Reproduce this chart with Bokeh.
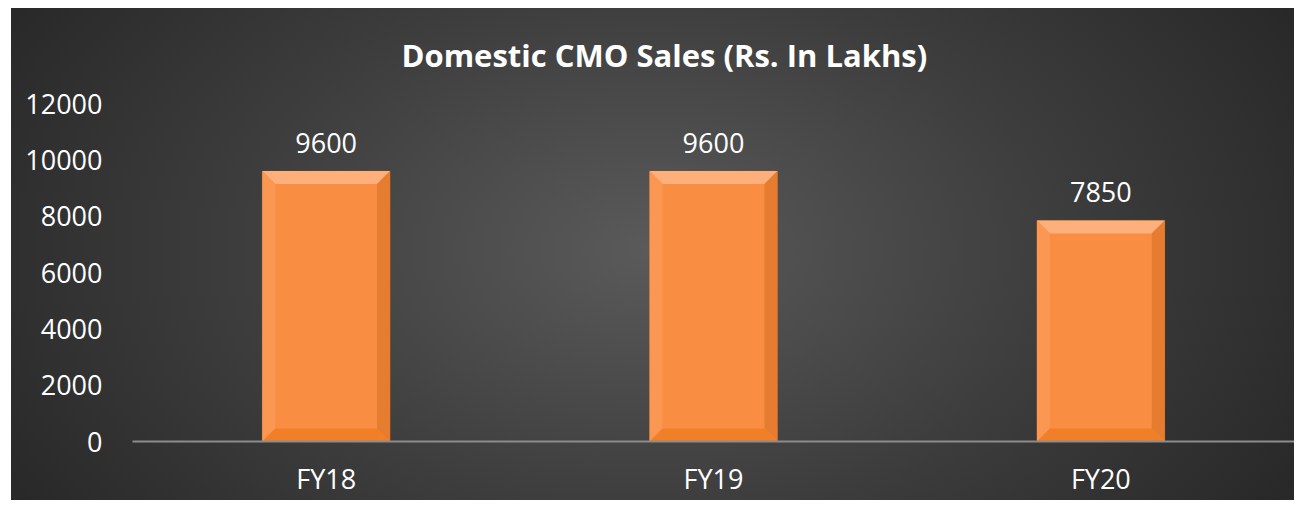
from bokeh.plotting import figure
from bokeh.models import Range1d, FixedTicker, ColumnDataSource
from bokeh.core.properties import value
from bokeh.embed import file_html
from bokeh.resources import INLINE

# ---- data ----
categories = ["FY18", "FY19", "FY20"]
sales = [9600, 9600, 7850]
y_ticks = [0, 2000, 4000, 6000, 8000, 10000, 12000]
title_text = "Domestic CMO Sales (Rs. In Lakhs)"

FONT = "Open Sans"
W, H = 1294, 500
LEFT, RIGHT, TOP, BOTTOM = 132, 0, 103, 59

p = figure(width=W, height=H, output_backend="svg", toolbar_location=None,
           x_range=Range1d(-0.5, len(categories) - 0.5), y_range=Range1d(0, 12000),
           min_border_left=LEFT, min_border_right=RIGHT,
           min_border_top=TOP, min_border_bottom=BOTTOM)
p.styles = {"background": (
    "linear-gradient(#ffffff, #ffffff) left top / 11px 100% no-repeat, "
    "linear-gradient(#ffffff, #ffffff) left top / 100% 8px no-repeat, "
    "radial-gradient(ellipse 58% 95% at 50% 50%, #5a5a5a 0%, #3d3d3d 55%, #282828 100%)")}
p.background_fill_alpha = 0
p.border_fill_alpha = 0
p.outline_line_color = None
p.grid.visible = False

xs = list(range(len(categories)))
bw = 0.33
src = ColumnDataSource(dict(x=xs, top=sales, lab=[str(v) for v in sales]))
p.vbar(x="x", top="top", width=bw, bottom=0, source=src,
       fill_color="#F98E43", line_color="#B85F1E", line_width=0.6, line_alpha=0.6)

# bevel faces
frame_w = W - LEFT - RIGHT
frame_h = H - TOP - BOTTOM
dx = 13 * (len(categories)) / frame_w
dy = 13 * 12000 / frame_h
bx, by, bc = [], [], []
for c, v in zip(xs, sales):
    x0, x1 = c - bw / 2, c + bw / 2
    bx.append([x0, x1, x1 - dx, x0 + dx]); by.append([v, v, v - dy, v - dy]); bc.append("#FDB27E")
    bx.append([x0, x0 + dx, x0 + dx, x0]); by.append([v, v - dy, dy, 0]); bc.append("#FA9853")
    bx.append([x1, x1, x1 - dx, x1 - dx]); by.append([v, 0, dy, v - dy]); bc.append("#E57B2E")
    bx.append([x0, x0 + dx, x1 - dx, x1]); by.append([0, dy, dy, 0]); bc.append("#F07E26")
p.patches(bx, by, fill_color=bc, line_color=None, fill_alpha=0.95)

# data labels
p.text(x="x", y="top", text="lab", source=src, text_align="center",
       text_baseline="alphabetic", y_offset=-28, text_color="#FFFFFF",
       text_font=value(FONT), text_font_size="27px")

# axes
p.xaxis.ticker = FixedTicker(ticks=xs)
p.xaxis.major_label_overrides = {i: c for i, c in enumerate(categories)}
p.xaxis.axis_line_color = "#8C8C8C"
p.xaxis.axis_line_width = 2
p.xaxis.major_tick_line_color = None
p.xaxis.minor_tick_line_color = None
p.xaxis.major_label_standoff = 12
p.xaxis.major_label_text_font = FONT
p.xaxis.major_label_text_font_size = "27px"
p.xaxis.major_label_text_color = "#FFFFFF"

p.yaxis.ticker = FixedTicker(ticks=y_ticks)
p.yaxis.axis_line_color = None
p.yaxis.major_tick_line_color = None
p.yaxis.minor_tick_line_color = None
p.yaxis.major_label_standoff = 24
p.yaxis.major_label_text_font = FONT
p.yaxis.major_label_text_font_size = "27px"
p.yaxis.major_label_text_color = "#FFFFFF"

# title
p.title.text = title_text
p.title.align = "left"
p.title.offset = 269
p.title.standoff = 55
p.title.text_font = FONT
p.title.text_font_style = "bold"
p.title.text_font_size = "31px"
p.title.text_color = "#FFFFFF"

open("out.html", "w").write(file_html(p, INLINE))
